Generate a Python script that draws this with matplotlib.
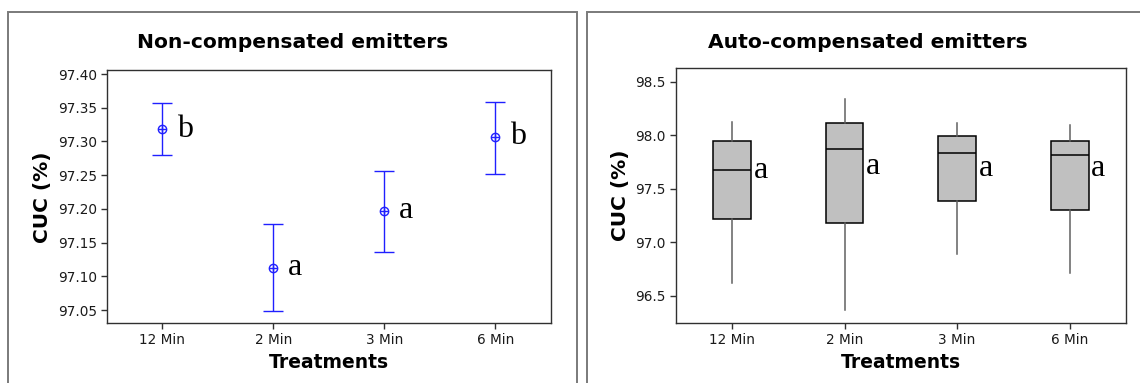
"""
CUC по вариантам обработки: слева интервалы (non-compensated), справа боксплоты (auto-compensated).
"""

import matplotlib
matplotlib.use("Agg")
import matplotlib.pyplot as plt
from matplotlib.patches import Rectangle

# Категории по оси X
treatments = ["12 Min", "2 Min", "3 Min", "6 Min"]

# Левая панель: среднее и границы интервала
nc_mean = [97.318, 97.113, 97.197, 97.307]
nc_low = [97.280, 97.048, 97.136, 97.252]
nc_high = [97.357, 97.177, 97.256, 97.358]
nc_letters = ["b", "a", "a", "b"]
nc_yticks = [97.05, 97.10, 97.15, 97.20, 97.25, 97.30, 97.35, 97.40]

# Правая панель: статистики боксплотов
ac_whislo = [96.622, 96.366, 96.890, 96.715]
ac_q1 = [97.214, 97.177, 97.388, 97.304]
ac_med = [97.675, 97.868, 97.831, 97.812]
ac_q3 = [97.949, 98.111, 97.995, 97.949]
ac_whishi = [98.120, 98.335, 98.114, 98.095]
ac_letters = ["a", "a", "a", "a"]
ac_letter_y = [97.67, 97.71, 97.69, 97.69]
ac_yticks = [96.5, 97.0, 97.5, 98.0, 98.5]

W, H = 1140, 383


def px(x0, y0, x1, y1):
    # пиксели картинки -> доли фигуры
    return [x0 / W, 1 - y1 / H, (x1 - x0) / W, (y1 - y0) / H]


def style_axes(ax):
    for name, sp in ax.spines.items():
        sp.set_color("#303030")
        sp.set_linewidth(1.0)
    ax.tick_params(direction="out", length=4, width=1, color="#303030",
                   labelsize=9.8, labelcolor="#1a1a1a", pad=3)
    ax.set_xlabel("Treatments", fontsize=13.5, fontweight="bold", labelpad=4)
    ax.set_ylabel("CUC (%)", fontsize=14.5, fontweight="bold", labelpad=4)


fig = plt.figure(figsize=(W / 100, H / 100), dpi=100)

# Рамки панелей
for x0, x1 in [(8.3, 577.3), (587.3, 1160)]:
    fig.add_artist(Rectangle((x0 / W, -0.1), (x1 - x0) / W, 1.1 - 12 / H,
                             transform=fig.transFigure, fill=False,
                             edgecolor="#7a7a7a", linewidth=1.4))

pos = list(range(1, len(treatments) + 1))

# --- Левая панель ---
ax1 = fig.add_axes(px(106.7, 70.3, 550.7, 323.3))
err_lo = [m - l for m, l in zip(nc_mean, nc_low)]
err_hi = [h - m for m, h in zip(nc_mean, nc_high)]
ax1.errorbar(pos, nc_mean, yerr=[err_lo, err_hi], fmt="none",
             ecolor="#2020ff", elinewidth=1.0, capsize=7.5, capthick=1.0)
ax1.plot(pos, nc_mean, "o", ms=6, mfc="none", mec="#2020ff", mew=1.0)
ax1.plot(pos, nc_mean, "+", ms=6, mec="#2020ff", mew=1.0)
for p, m, t in zip(pos, nc_mean, nc_letters):
    ax1.text(p + 0.135, m, t, fontsize=23, family="Liberation Serif",
             ha="left", va="center")
ax1.set_xlim(0.5, 4.5)
ax1.set_ylim(97.0303, 97.4055)
ax1.set_xticks(pos, treatments)
ax1.set_yticks(nc_yticks, [f"{v:.2f}" for v in nc_yticks])
style_axes(ax1)
fig.text(293 / W, 1 - 43 / H, "Non-compensated emitters", fontsize=14.6,
         fontweight="bold", ha="center", va="center")

# --- Правая панель ---
ax2 = fig.add_axes(px(675.7, 67.5, 1126, 323.3))
stats = []
for i, t in enumerate(treatments):
    stats.append({"label": t, "whislo": ac_whislo[i], "q1": ac_q1[i],
                  "med": ac_med[i], "q3": ac_q3[i], "whishi": ac_whishi[i],
                  "fliers": []})
ax2.bxp(stats, positions=pos, widths=0.335, patch_artist=True,
        showcaps=False, showfliers=False,
        boxprops=dict(facecolor="#c0c0c0", edgecolor="black", linewidth=1.1),
        medianprops=dict(color="black", linewidth=1.1),
        whiskerprops=dict(color="#606060", linewidth=1.1))
for p, y, t in zip(pos, ac_letter_y, ac_letters):
    ax2.text(p + 0.19, y, t, fontsize=23, family="Liberation Serif",
             ha="left", va="center")
ax2.set_xlim(0.5, 4.5)
ax2.set_ylim(96.242, 98.633)
ax2.set_xticks(pos, treatments)
ax2.set_yticks(ac_yticks, [f"{v:.1f}" for v in ac_yticks])
style_axes(ax2)
fig.text(868 / W, 1 - 43 / H, "Auto-compensated emitters", fontsize=14.6,
         fontweight="bold", ha="center", va="center")

fig.savefig("out.png", dpi=100)
